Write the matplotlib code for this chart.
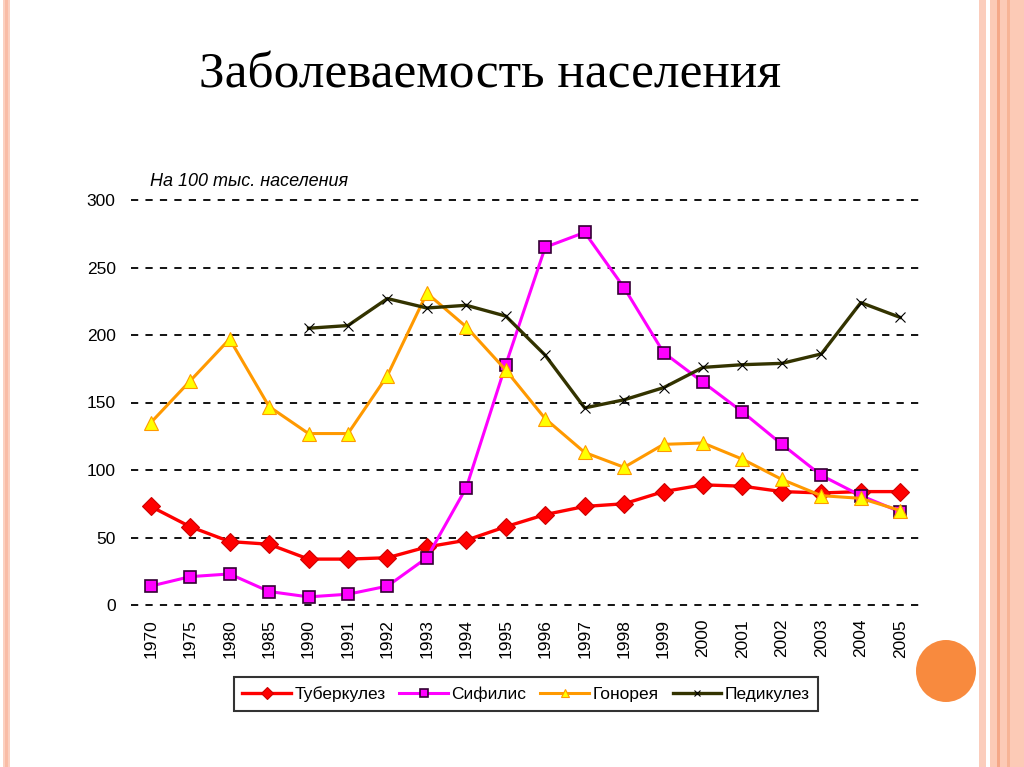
import matplotlib
matplotlib.use("Agg")
import matplotlib.pyplot as plt
from matplotlib.patches import Rectangle, Ellipse
import numpy as np

years = ["1970", "1975", "1980", "1985", "1990", "1991", "1992", "1993", "1994", "1995",
         "1996", "1997", "1998", "1999", "2000", "2001", "2002", "2003", "2004", "2005"]

tuberculosis = [73, 58, 47, 45, 34, 34, 35, 43, 48, 58, 67, 73, 75, 84, 89, 88, 84, 83, 84, 84]
syphilis = [14, 21, 23, 10, 6, 8, 14, 35, 87, 178, 265, 276, 235, 187, 165, 143, 119, 96, 81, 69]
gonorrhea = [135, 166, 197, 147, 127, 127, 170, 231, 206, 174, 138, 113, 102, 119, 120, 108, 93, 81, 79, 70]
pediculosis = [None, None, None, None, 205, 207, 227, 220, 222, 214, 185, 146, 152, 161, 176, 178, 179, 186, 224, 213]

series_names = ["Туберкулез", "Сифилис", "Гонорея", "Педикулез"]
yticks = [0, 50, 100, 150, 200, 250, 300]

W, H = 1024, 767
fig = plt.figure(figsize=(W / 100, H / 100), dpi=100)
fig.patch.set_facecolor("white")

# decorative borders
def frect(x0, x1, color, alpha=1.0):
    fig.patches.append(Rectangle((x0 / W, 0), (x1 - x0) / W, 1, transform=fig.transFigure,
                                 facecolor=color, edgecolor="none", alpha=alpha, zorder=0))

frect(3, 10, "#FBD0C0")
frect(5, 8, "#F9BCA6")
frect(979, 986, "#FBCDBC")
frect(990, 1024, "#FCCAB6")
frect(997, 1000, "#F5A888")
frect(1007, 1010, "#F7B496")

fig.patches.append(Ellipse((946 / W, 1 - 671 / H), 60 / W, 62 / H, transform=fig.transFigure,
                           facecolor="#F88A3E", edgecolor="none", zorder=1))

fig.text(490 / W, 1 - 75 / H, "Заболеваемость населения", ha="center", va="center",
         family="Liberation Serif", fontsize=37, color="black")

ax = fig.add_axes([131 / W, 1 - 605 / H, (920 - 131) / W, (605 - 200) / H])
ax.set_facecolor("none")
x = np.arange(len(years))

ax.plot(x, tuberculosis, color="#FF0000", lw=2.4, marker="D", ms=9.5,
        mfc="#FF0000", mec="#CC0000", mew=0.8, label=series_names[0], zorder=3)
ax.plot(x, syphilis, color="#FF00FF", lw=2.2, marker="s", ms=8.5,
        mfc="#FF00FF", mec="#330033", mew=1.2, label=series_names[1], zorder=3)
ax.plot(x, gonorrhea, color="#FF9900", lw=2.2, marker="^", ms=10,
        mfc="#FFFF00", mec="#FF9900", mew=0.8, label=series_names[2], zorder=3)
ped = np.array([np.nan if v is None else v for v in pediculosis], dtype=float)
ax.plot(x, ped, color="#333300", lw=2.4, marker="x", ms=7,
        mfc="#000000", mec="#000000", mew=0.8, label=series_names[3], zorder=3)

ax.set_xlim(-0.5, len(years) - 0.5)
ax.set_ylim(0, 300)
ax.set_yticks(yticks)
ax.set_xticks(x)
ax.set_xticklabels(years, rotation=90, family="Liberation Sans", fontsize=12.5)
ax.set_yticklabels([str(v) for v in yticks], family="Liberation Sans", fontsize=12.5)
ax.tick_params(axis="both", length=0)
ax.tick_params(axis="x", pad=10)
ax.tick_params(axis="y", pad=11)
for s in ax.spines.values():
    s.set_visible(False)
for yv in yticks:
    ax.axhline(yv, color="black", lw=1.3, ls=(0, (4, 4)), zorder=1, clip_on=False)

fig.text(150 / W, 1 - 181 / H, "На 100 тыс. населения", ha="left", va="center",
         family="Liberation Sans", style="italic", fontsize=13, color="black")

leg = fig.legend(loc="center", bbox_to_anchor=(526 / W, 1 - 694 / H), ncol=4,
                 prop={"family": ["Liberation Sans Narrow", "Liberation Sans"], "size": 12.5},
                 frameon=True, fancybox=False, handlelength=2.8, handletextpad=0.2,
                 columnspacing=0.8, borderpad=0.5, markerscale=0.6)
leg.get_frame().set_edgecolor("black")
leg.get_frame().set_linewidth(1.5)

fig.savefig("out.png", dpi=100, facecolor="white")
